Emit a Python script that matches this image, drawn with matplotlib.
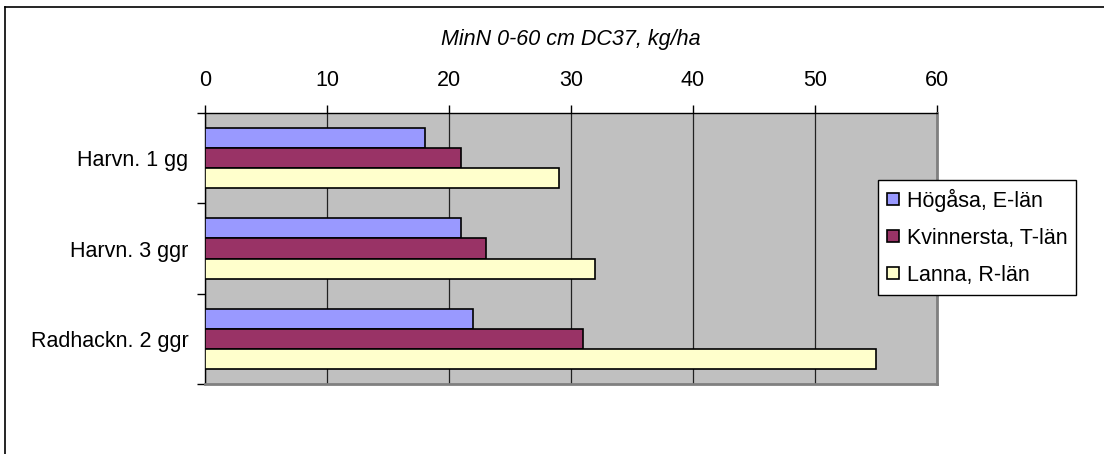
import numpy as np
import matplotlib.pyplot as plt
from matplotlib.lines import Line2D

plt.rcParams["font.family"] = ["Liberation Sans", "DejaVu Sans"]

categories = ["Harvn. 1 gg", "Harvn. 3 ggr", "Radhackn. 2 ggr"]
series_names = ["Högåsa, E-län", "Kvinnersta, T-län", "Lanna, R-län"]
hogasa = [18, 21, 22]
kvinnersta = [21, 23, 31]
lanna = [29, 32, 55]
colors = ["#9999FF", "#993366", "#FFFFCC"]

W, H = 1104, 454
fig = plt.figure(figsize=(W / 100, H / 100), dpi=100)

# axes placed in pixel coordinates
x0, x1, y0, y1 = 205, 937, 113, 384
ax = fig.add_axes([x0 / W, 1 - y1 / H, (x1 - x0) / W, (y1 - y0) / H])
ax.set_facecolor("#C0C0C0")

pos = np.arange(len(categories))
bh = 0.222
for i, (vals, name, c) in enumerate(zip([hogasa, kvinnersta, lanna], series_names, colors)):
    ax.barh(pos + (i - 1) * bh, vals, height=bh, color=c, edgecolor="black",
            linewidth=1.2, label=name, zorder=3)

ax.set_xlim(0, 60)
ax.set_ylim(len(categories) - 0.5, -0.5)
ax.set_xticks(np.arange(0, 61, 10))
ax.xaxis.tick_top()
ax.tick_params(axis="x", length=6, width=1, pad=10, labelsize=15.5, colors="black")
ax.grid(axis="x", color="#222222", linewidth=0.9, zorder=1)

ax.set_yticks(pos)
ax.set_yticklabels(categories)
ax.set_yticks(np.arange(-0.5, len(categories)), minor=True)
ax.tick_params(axis="y", which="major", length=0, pad=12, labelsize=15.5)
ax.tick_params(axis="y", which="minor", length=6, width=1)

for s in ["top", "left"]:
    ax.spines[s].set_color("black")
    ax.spines[s].set_linewidth(1)
for s in ["right", "bottom"]:
    ax.spines[s].set_color("#808080")
    ax.spines[s].set_linewidth(2)

fig.text(571 / W, 1 - 39 / H, "MinN 0-60 cm DC37, kg/ha", ha="center", va="center",
         fontsize=15.5, style="italic")

handles = [Line2D([], [], marker="s", linestyle="none", markersize=9,
                  markerfacecolor=c, markeredgecolor="black", markeredgewidth=1.2)
           for c in colors]
leg = fig.legend(handles, series_names, loc="upper left",
                 bbox_to_anchor=(878 / W, 1 - 180 / H), fontsize=15.5,
                 frameon=True, fancybox=False, shadow=False, framealpha=1,
                 edgecolor="black", handlelength=0.6, handletextpad=0.35,
                 labelspacing=0.75, borderpad=0.4, borderaxespad=0)
leg.get_frame().set_linewidth(1)

# chart border (top and left edges)
fig.add_artist(Line2D([5 / W, 1], [1 - 7 / H, 1 - 7 / H], color="black", linewidth=1.2))
fig.add_artist(Line2D([5 / W, 5 / W], [0, 1 - 7 / H], color="black", linewidth=1.2))

fig.savefig("out.png", dpi=100)
